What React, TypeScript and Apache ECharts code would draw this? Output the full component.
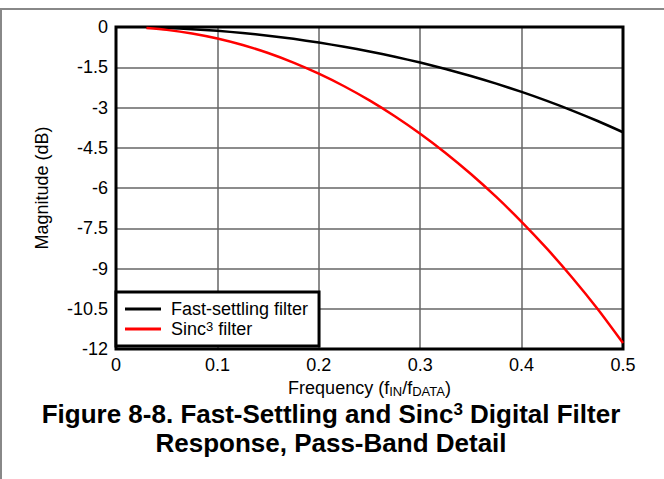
import React, { useEffect, useRef } from 'react';
import * as echarts from 'echarts';

const freq = [0.03, 0.05, 0.075, 0.1, 0.125, 0.15, 0.175, 0.2, 0.225, 0.25, 0.275, 0.3, 0.325, 0.35, 0.375, 0.4, 0.425, 0.45, 0.475, 0.5];
const fastSettling = [-0.013, -0.036, -0.081, -0.143, -0.224, -0.323, -0.442, -0.58, -0.736, -0.912, -1.109, -1.326, -1.565, -1.827, -2.111, -2.42, -2.754, -3.115, -3.504, -3.922];
const sinc3 = [-0.039, -0.107, -0.242, -0.43, -0.673, -0.97, -1.327, -1.74, -2.208, -2.736, -3.326, -3.979, -4.695, -5.48, -6.334, -7.26, -8.262, -9.344, -10.51, -11.78];
const seriesNames = ['Fast-settling filter', 'Sinc3 filter'];
const FONT = '"Liberation Sans", Arial, Helvetica, sans-serif';

export default function App() {
  const ref = useRef<HTMLDivElement>(null);
  useEffect(() => {
    if (!ref.current) return;
    const chart = echarts.init(ref.current, null, { renderer: 'svg' });
    const pairs = (ys: number[]) => freq.map((f, i) => [f, ys[i]]);
    chart.setOption({
      animation: false,
      backgroundColor: '#fff',
      grid: { left: 116, right: 41, top: 27, bottom: 130, show: true, borderColor: '#000', borderWidth: 3, z: 3 },
      xAxis: {
        type: 'value', min: 0, max: 0.5, interval: 0.1,
        axisLine: { show: false }, axisTick: { show: false },
        splitLine: { show: true, lineStyle: { color: '#666', width: 1.5 } },
        axisLabel: { color: '#000', fontSize: 18, fontFamily: FONT, margin: 7 },
        name: 'Frequency (f{sub|IN}/f{sub|DATA})',
        nameLocation: 'middle', nameGap: 22,
        nameTextStyle: {
          color: '#000', fontSize: 18, fontFamily: FONT, lineHeight: 18,
          rich: { sub: { fontSize: 13, fontFamily: FONT, color: '#000', lineHeight: 13, padding: [6, 0, 0, 0] } },
        },
      },
      yAxis: {
        type: 'value', min: -12, max: 0, interval: 1.5,
        axisLine: { show: false }, axisTick: { show: false },
        splitLine: { show: true, lineStyle: { color: '#666', width: 1.5 } },
        axisLabel: { color: '#000', fontSize: 18, fontFamily: FONT, margin: 8 },
        name: 'Magnitude (dB)', nameLocation: 'middle', nameGap: 65,
        nameTextStyle: { color: '#000', fontSize: 18, fontFamily: FONT },
      },
      legend: {
        orient: 'vertical', left: 116, top: 292,
        padding: [8, 11, 8, 9],
        backgroundColor: '#fff', borderColor: '#000', borderWidth: 3,
        itemWidth: 36, itemHeight: 3, itemGap: 2, icon: 'rect',
        data: seriesNames,
        formatter: (name: string) => name === 'Sinc3 filter' ? '{n|Sinc}{sup|3}{n| filter}' : '{n|' + name + '}',
        textStyle: {
          color: '#000', fontSize: 18, fontFamily: FONT, padding: [0, 0, 0, 5],
          rich: {
            n: { fontSize: 18, fontFamily: FONT, color: '#000', lineHeight: 18 },
            sup: { fontSize: 13, fontFamily: FONT, color: '#000', lineHeight: 13, padding: [0, 0, 5, 0] },
          },
        },
        z: 10,
      },
      graphic: [
        { type: 'line', shape: { x1: 0, y1: 9, x2: 664, y2: 9 }, style: { stroke: '#888', lineWidth: 2 }, z: 100 },
        { type: 'line', shape: { x1: 1, y1: 9, x2: 1, y2: 479 }, style: { stroke: '#888', lineWidth: 2 }, z: 100 },
        {
          type: 'text', x: 331, y: 414,
          style: {
            text: '{b|Figure 8-8. Fast-Settling and Sinc}{sup|3}{b| Digital Filter}',
            align: 'center', verticalAlign: 'middle',
            rich: {
              b: { fontSize: 26, fontWeight: 'bold', fontFamily: FONT, fill: '#000', lineHeight: 26 },
              sup: { fontSize: 17, fontWeight: 'bold', fontFamily: FONT, fill: '#000', lineHeight: 17, padding: [0, 0, 9, 0] },
            },
          },
        },
        {
          type: 'text', x: 331, y: 443,
          style: {
            text: 'Response, Pass-Band Detail',
            align: 'center', verticalAlign: 'middle',
            font: 'bold 26px ' + FONT, fill: '#000',
          },
        },
      ],
      series: [
        { name: seriesNames[0], type: 'line', data: pairs(fastSettling), symbol: 'none', smooth: 0.25, color: '#000', lineStyle: { color: '#000', width: 2.5 }, z: 4 },
        { name: seriesNames[1], type: 'line', data: pairs(sinc3), symbol: 'none', smooth: 0.25, color: '#ff0000', lineStyle: { color: '#ff0000', width: 2.5 }, z: 4 },
      ],
    });
    return () => chart.dispose();
  }, []);
  return <div ref={ref} style={{ position: 'fixed', left: 0, top: 0, width: 664, height: 479 }} />;
}
